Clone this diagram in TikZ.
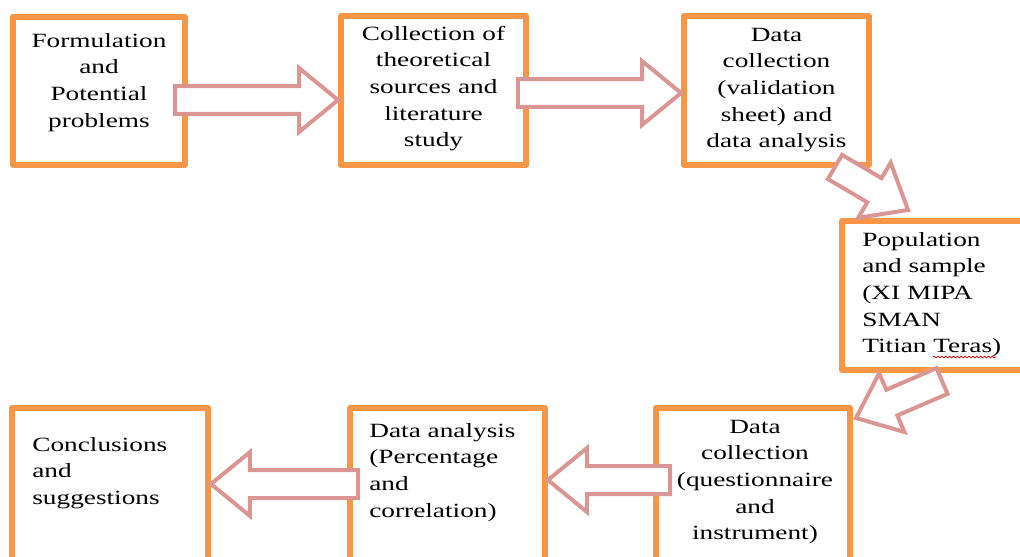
\documentclass[tikz,border=0pt]{standalone}
\usepackage{fontspec}
\setmainfont{Liberation Serif}[FakeStretch=1.35]
\usetikzlibrary{calc,decorations.pathmorphing}
\definecolor{boxorange}{HTML}{F79646}
\definecolor{arrowpink}{HTML}{D99694}
% block arrow from #1 to #2
\newcommand{\flowarrow}[2]{%
  \coordinate (hb) at ($(#2)!0.78cm!(#1)$);
  \draw[flowline] ($(#1)!0.28cm!90:(#2)$) -- ($(hb)!0.28cm!90:(#2)$)
    -- ($(hb)!0.64cm!90:(#2)$) -- (#2) -- ($(hb)!0.64cm!-90:(#2)$)
    -- ($(hb)!0.28cm!-90:(#2)$) -- ($(#1)!0.28cm!-90:(#2)$) -- cycle;}
\begin{document}
\begin{tikzpicture}[x=0.02cm,y=-0.02cm,
    stepbox/.style={draw=boxorange,line width=0.12cm,line join=round,fill=white},
    flowline/.style={draw=arrowpink,line width=0.08cm,fill=white,line join=miter},
    steptext/.style={inner sep=0pt,anchor=north,align=center,font=\fontsize{11.5}{15.2}\selectfont},
    lefttext/.style={steptext,anchor=north west,align=left},
    spellmark/.style={draw=red!80!black,line width=0.4pt,decorate,decoration={snake,amplitude=0.5pt,segment length=2.2pt}}]
	\useasboundingbox (0,0) rectangle (1020,557);
	\clip (0,0) rectangle (1020,557);
	
	\node[stepbox,minimum width=3.44cm,minimum height=2.96cm] (form) at (99,91) {};
	\node[stepbox,minimum width=3.70cm,minimum height=2.98cm] (theory) at (433.5,90.5) {};
	\node[stepbox,minimum width=3.70cm,minimum height=2.98cm] (valid) at (776.5,90.5) {};
	\node[stepbox,minimum width=4.00cm,minimum height=2.98cm] (popul) at (942,295.5) {};
	\node[stepbox,minimum width=3.88cm,minimum height=3.08cm] (quest) at (753,485) {};
	\node[stepbox,minimum width=3.90cm,minimum height=3.08cm] (anal) at (447.5,485) {};
	\node[stepbox,minimum width=3.92cm,minimum height=3.08cm] (concl) at (110,485) {};
	
	\coordinate (a1s) at ($(form.east)+(-13,9)$);
	\coordinate (a1t) at (a1s -| theory.west);
	\flowarrow{a1s}{a1t}
	\coordinate (a2s) at ($(theory.east)+(-11,2.5)$);
	\coordinate (a2t) at (a2s -| valid.west);
	\flowarrow{a2s}{a2t}
	\coordinate (a3s) at ($(valid.south east)+(-37,-1)$);
	\coordinate (a3t) at ($(popul.north west)+(69,-8)$);
	\flowarrow{a3s}{a3t}
	\coordinate (a4s) at ($(popul.south)+(0,8)$);
	\coordinate (a4t) at ($(quest.north east)+(3,13)$);
	\flowarrow{a4s}{a4t}
	\coordinate (a5s) at ($(quest.west)+(17,-5)$);
	\coordinate (a5t) at (a5s -| anal.east);
	\flowarrow{a5s}{a5t}
	\coordinate (a6s) at ($(anal.west)+(11,-1)$);
	\coordinate (a6t) at (a6s -| concl.east);
	\flowarrow{a6s}{a6t}
	
	\node[steptext] (formtext) at ($(form.north)+(0,14)$) {\strut Formulation\\and\\Potential\\problems};
	\node[steptext] (theorytext) at ($(theory.north)+(0,8)$) {\strut Collection of\\theoretical\\sources and\\literature\\study};
	\node[steptext] (validtext) at ($(valid.north)+(0,9)$) {\strut Data\\collection\\(validation\\sheet) and\\data analysis};
	\node[lefttext] (popultext) at ($(popul.north west)+(23,9)$) {\strut Population\\and sample\\(XI MIPA\\SMAN\\Titian Teras)};
	\node[steptext] (questtext) at ($(quest.north)+(2,9)$) {\strut Data\\collection\\(questionnaire\\and\\instrument)};
	\node[lefttext] (analtext) at ($(anal.north west)+(22,13)$) {\strut Data analysis\\(Percentage\\and\\correlation)};
	\node[lefttext] (concltext) at ($(concl.north west)+(23,27)$) {\strut Conclusions\\and\\suggestions};
	\draw[spellmark] (933,357) -- (996,357);
\end{tikzpicture}
\end{document}
